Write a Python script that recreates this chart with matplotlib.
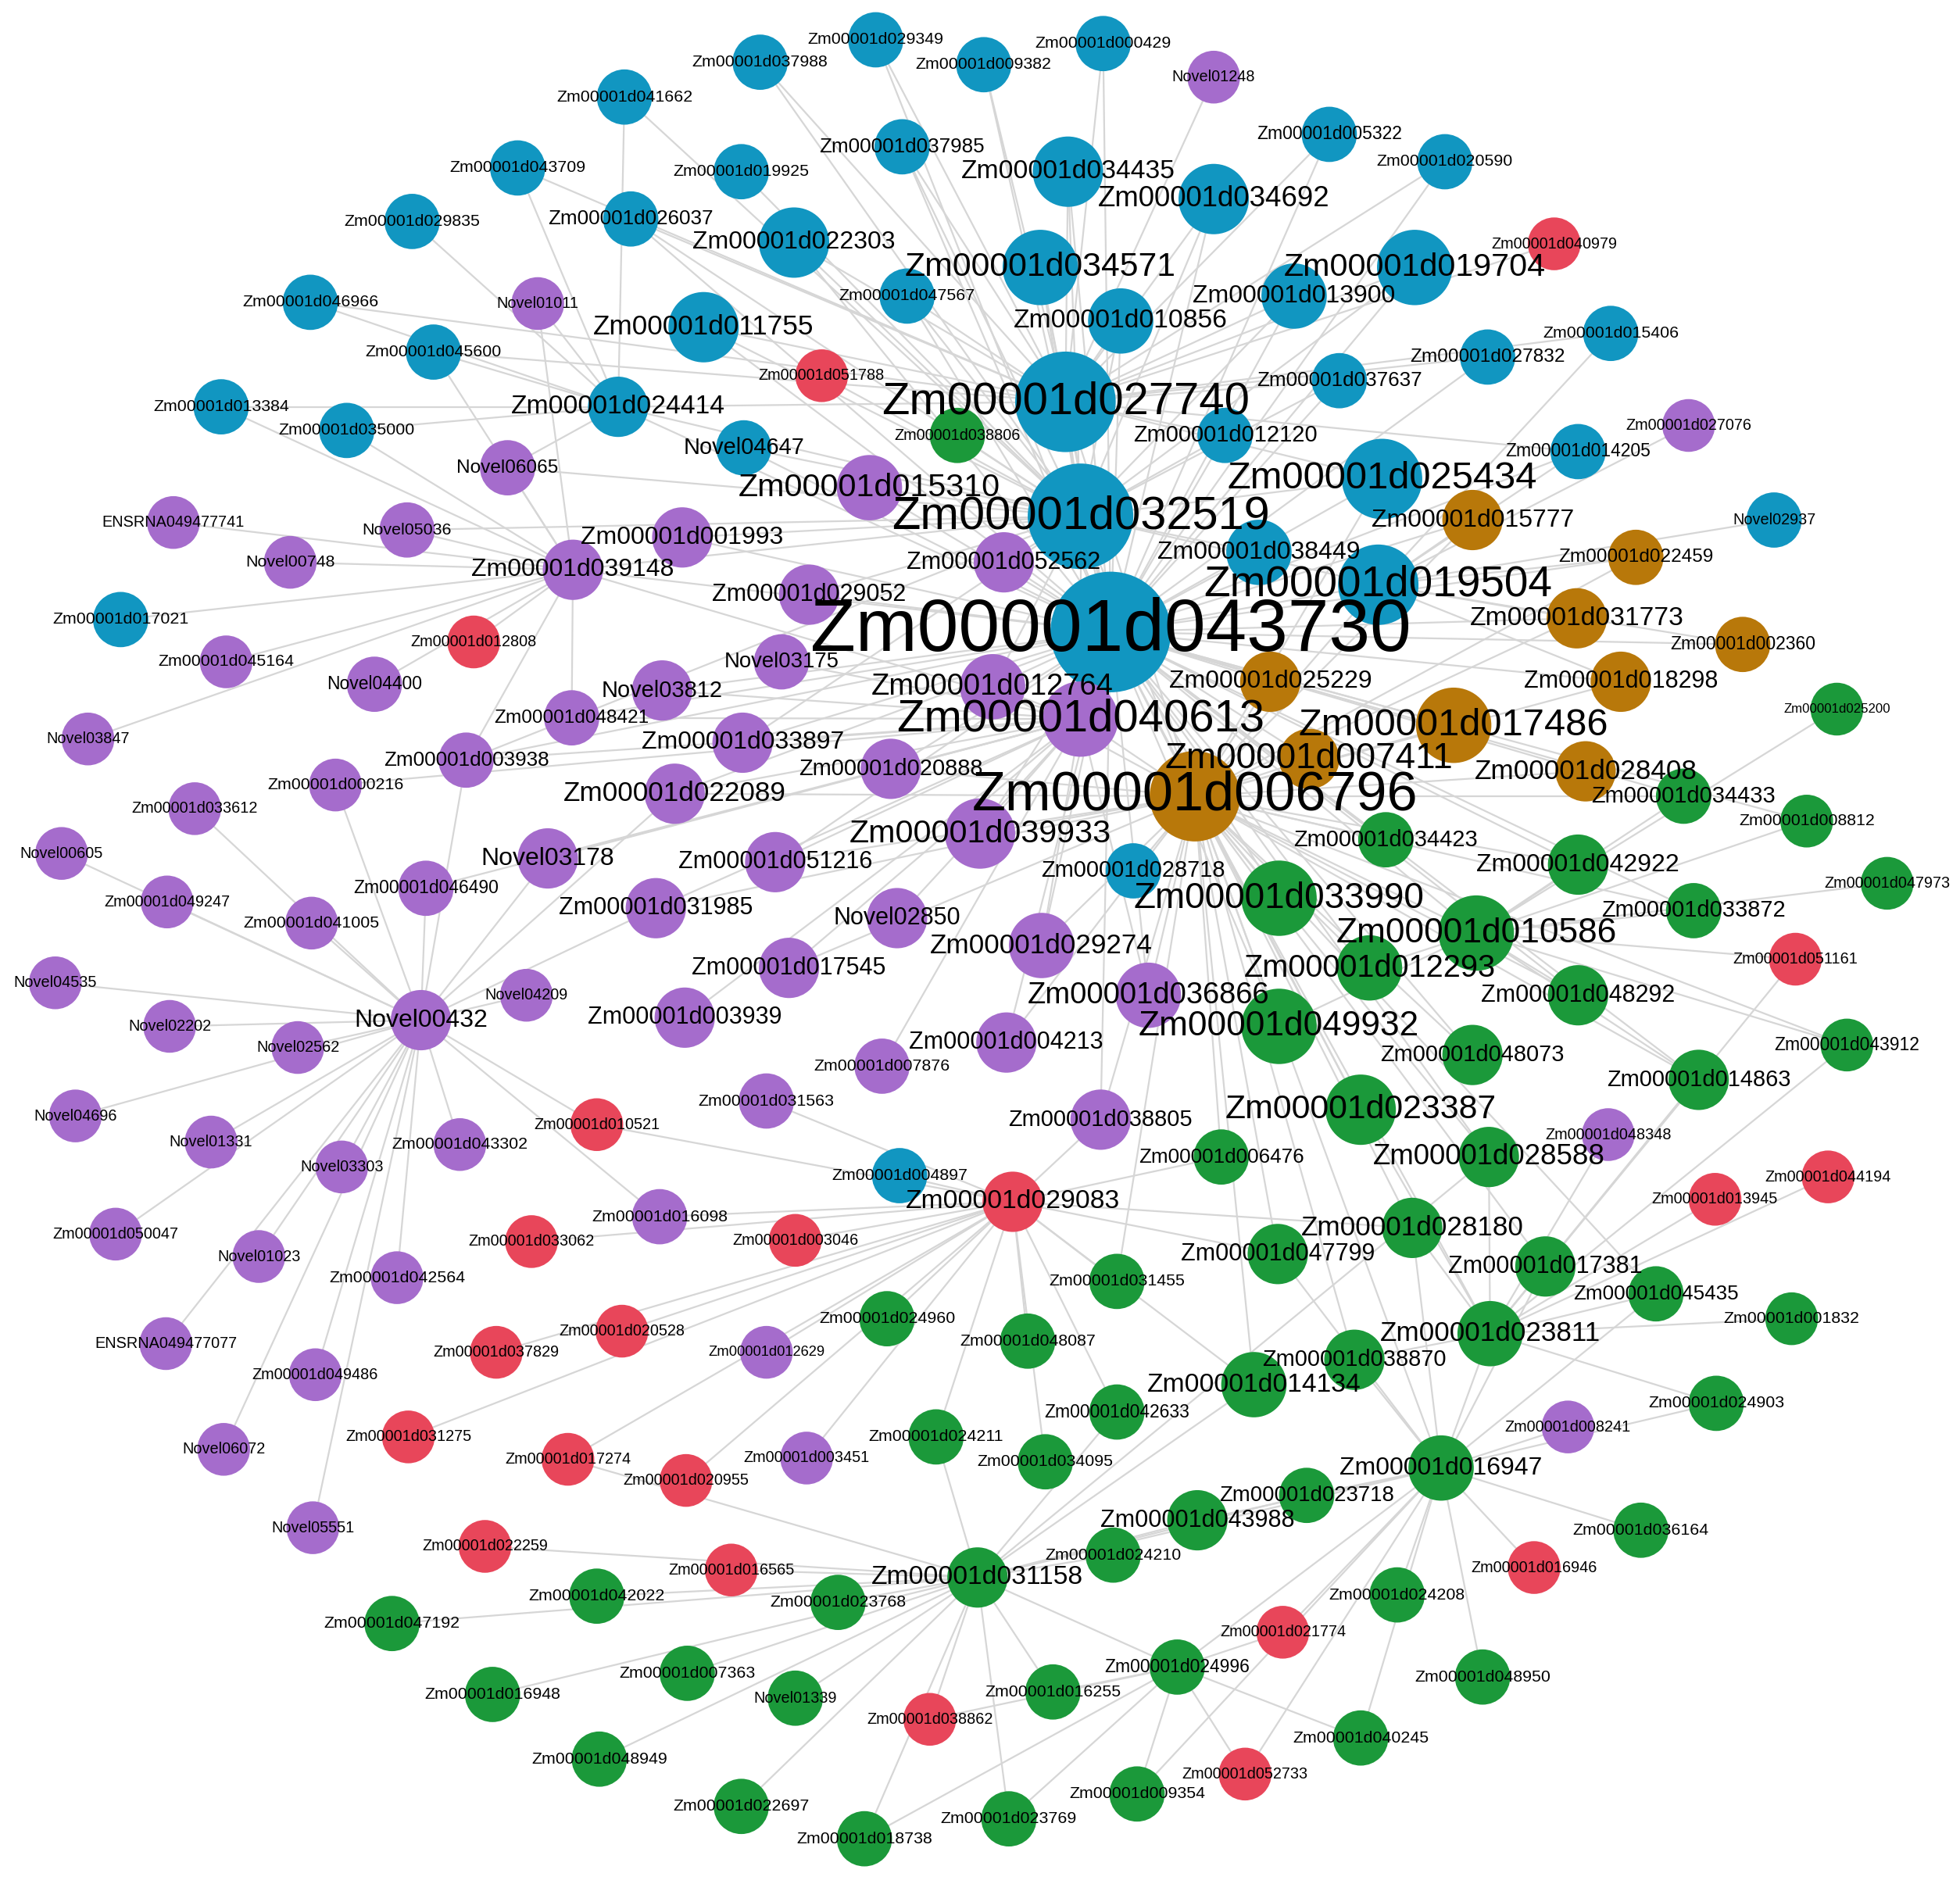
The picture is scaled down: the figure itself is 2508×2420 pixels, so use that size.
import matplotlib.pyplot as plt

# nodos: (nombre, x, y, radio, tamano de letra) en pixeles de la imagen de referencia
azul = [
    ('Zm00001d029349', 697, 32, 22, 14), ('Zm00001d037988', 605, 50, 22, 14),
    ('Zm00001d000429', 878, 35, 22, 14), ('Zm00001d009382', 783, 52, 22, 14),
    ('Zm00001d041662', 497, 78, 22, 14), ('Zm00001d037985', 718, 118, 22, 17),
    ('Zm00001d005322', 1058, 108, 22, 15), ('Zm00001d020590', 1150, 130, 22, 14),
    ('Zm00001d043709', 412, 135, 22, 14), ('Zm00001d019925', 590, 138, 22, 14),
    ('Zm00001d034435', 850, 138, 28, 22), ('Zm00001d034692', 966, 160, 28, 24),
    ('Zm00001d029835', 328, 178, 22, 14), ('Zm00001d026037', 502, 176, 22, 17),
    ('Zm00001d022303', 632, 195, 28, 21), ('Zm00001d034571', 828, 215, 30, 28),
    ('Zm00001d019704', 1126, 215, 30, 27), ('Zm00001d046966', 247, 243, 22, 14),
    ('Zm00001d047567', 722, 238, 22, 14), ('Zm00001d013900', 1030, 238, 26, 21),
    ('Zm00001d010856', 892, 258, 26, 22), ('Zm00001d011755', 560, 263, 28, 23),
    ('Zm00001d015406', 1282, 268, 22, 14), ('Zm00001d045600', 345, 283, 22, 14),
    ('Zm00001d027832', 1184, 287, 22, 16), ('Zm00001d037637', 1066, 306, 22, 17),
    ('Zm00001d013384', 176, 327, 22, 14), ('Zm00001d024414', 492, 327, 24, 22),
    ('Zm00001d027740', 848, 323, 40, 38), ('Zm00001d035000', 276, 346, 22, 14),
    ('Zm00001d012120', 975, 350, 22, 19), ('Novel04647', 592, 360, 22, 19),
    ('Zm00001d014205', 1256, 363, 22, 15), ('Zm00001d025434', 1100, 385, 32, 32),
    ('Novel02937', 1412, 418, 22, 13), ('Zm00001d032519', 860, 415, 42, 39),
    ('Zm00001d038449', 1002, 444, 26, 21), ('Zm00001d019504', 1097, 470, 32, 36),
    ('Zm00001d017021', 96, 498, 22, 14), ('Zm00001d043730', 884, 508, 48, 62),
    ('Zm00001d028718', 902, 700, 22, 19), ('Zm00001d004897', 716, 945, 22, 14),
]

rojo = [
    ('Zm00001d040979', 1237, 196, 21, 13), ('Zm00001d051788', 654, 302, 21, 13),
    ('Zm00001d012808', 377, 516, 21, 13), ('Zm00001d051161', 1429, 771, 21, 13),
    ('Zm00001d010521', 475, 904, 21, 13), ('Zm00001d044194', 1455, 946, 21, 13),
    ('Zm00001d013945', 1365, 964, 21, 13), ('Zm00001d029083', 806, 966, 24, 22),
    ('Zm00001d033062', 423, 998, 21, 13), ('Zm00001d003046', 633, 997, 21, 13),
    ('Zm00001d020528', 495, 1070, 21, 13), ('Zm00001d037829', 395, 1087, 21, 13),
    ('Zm00001d031275', 325, 1155, 21, 13), ('Zm00001d017274', 452, 1173, 21, 13),
    ('Zm00001d020955', 546, 1190, 21, 13), ('Zm00001d022259', 386, 1243, 21, 13),
    ('Zm00001d016565', 582, 1262, 21, 13), ('Zm00001d016946', 1221, 1260, 21, 13),
    ('Zm00001d021774', 1021, 1312, 21, 13), ('Zm00001d038862', 740, 1382, 21, 13),
    ('Zm00001d052733', 991, 1426, 21, 13),
]

marron = [
    ('Zm00001d015777', 1172, 418, 24, 21), ('Zm00001d022459', 1302, 448, 22, 16),
    ('Zm00001d031773', 1255, 497, 24, 22), ('Zm00001d002360', 1387, 518, 22, 15),
    ('Zm00001d025229', 1011, 548, 24, 21), ('Zm00001d018298', 1290, 548, 24, 20),
    ('Zm00001d017486', 1157, 583, 30, 32), ('Zm00001d007411', 1042, 610, 24, 30),
    ('Zm00001d028408', 1262, 620, 24, 23), ('Zm00001d006796', 951, 640, 36, 46),
]

verde = [
    ('Zm00001d038806', 762, 350, 22, 13), ('Zm00001d025200', 1462, 570, 21, 11),
    ('Zm00001d034433', 1340, 640, 22, 19), ('Zm00001d008812', 1438, 660, 21, 14),
    ('Zm00001d034423', 1103, 675, 22, 19), ('Zm00001d042922', 1256, 695, 24, 21),
    ('Zm00001d047973', 1502, 710, 21, 13), ('Zm00001d033990', 1018, 722, 30, 30),
    ('Zm00001d010586', 1175, 750, 30, 29), ('Zm00001d033872', 1348, 732, 22, 19),
    ('Zm00001d012293', 1090, 778, 26, 26), ('Zm00001d048292', 1256, 800, 24, 20),
    ('Zm00001d049932', 1018, 825, 30, 29), ('Zm00001d048073', 1172, 848, 24, 19),
    ('Zm00001d043912', 1470, 840, 21, 15), ('Zm00001d014863', 1352, 868, 24, 19),
    ('Zm00001d023387', 1083, 892, 28, 28), ('Zm00001d006476', 972, 930, 22, 17),
    ('Zm00001d028588', 1185, 930, 24, 24), ('Zm00001d028180', 1124, 987, 24, 23),
    ('Zm00001d047799', 1017, 1008, 24, 20), ('Zm00001d017381', 1230, 1018, 24, 20),
    ('Zm00001d045435', 1318, 1040, 22, 17), ('Zm00001d031455', 889, 1030, 22, 14),
    ('Zm00001d001832', 1426, 1060, 21, 14), ('Zm00001d024960', 706, 1060, 22, 14),
    ('Zm00001d048087', 818, 1078, 22, 14), ('Zm00001d023811', 1186, 1072, 26, 23),
    ('Zm00001d038870', 1078, 1093, 24, 19), ('Zm00001d014134', 998, 1113, 26, 22),
    ('Zm00001d024903', 1366, 1128, 22, 14), ('Zm00001d042633', 889, 1135, 22, 15),
    ('Zm00001d024211', 745, 1155, 22, 14), ('Zm00001d034095', 832, 1175, 22, 14),
    ('Zm00001d016947', 1147, 1180, 26, 21), ('Zm00001d023718', 1040, 1202, 22, 18),
    ('Zm00001d036164', 1306, 1230, 22, 14), ('Zm00001d043988', 953, 1222, 24, 20),
    ('Zm00001d024210', 886, 1250, 22, 14), ('Zm00001d031158', 778, 1268, 24, 22),
    ('Zm00001d042022', 475, 1283, 22, 14), ('Zm00001d023768', 667, 1288, 22, 14),
    ('Zm00001d024208', 1112, 1282, 22, 14), ('Zm00001d047192', 312, 1305, 22, 14),
    ('Zm00001d007363', 547, 1345, 22, 14), ('Zm00001d024996', 937, 1340, 22, 15),
    ('Zm00001d048950', 1180, 1348, 22, 14), ('Zm00001d016948', 392, 1362, 22, 14),
    ('Novel01339', 633, 1365, 22, 13), ('Zm00001d016255', 838, 1360, 22, 14),
    ('Zm00001d040245', 1083, 1397, 22, 14), ('Zm00001d048949', 477, 1414, 22, 14),
    ('Zm00001d009354', 905, 1442, 22, 14), ('Zm00001d022697', 590, 1452, 22, 14),
    ('Zm00001d023769', 803, 1462, 22, 14), ('Zm00001d018738', 688, 1478, 22, 14),
]

morado = [
    ('Novel01248', 966, 62, 21, 13), ('Novel01011', 428, 244, 21, 13),
    ('Zm00001d027076', 1344, 342, 21, 13), ('Novel06065', 404, 376, 22, 16),
    ('Zm00001d015310', 692, 392, 26, 27), ('ENSRNA049477741', 138, 420, 21, 13),
    ('Novel05036', 324, 426, 22, 14), ('Zm00001d001993', 543, 432, 24, 21),
    ('Novel00748', 231, 452, 21, 14), ('Zm00001d052562', 799, 452, 24, 20),
    ('Zm00001d039148', 456, 458, 24, 21), ('Zm00001d029052', 644, 478, 24, 20),
    ('Zm00001d045164', 180, 532, 21, 14), ('Novel03175', 622, 532, 22, 18),
    ('Novel04400', 298, 550, 22, 15), ('Novel03812', 527, 555, 24, 19),
    ('Zm00001d012764', 790, 552, 26, 25), ('Zm00001d048421', 455, 577, 22, 16),
    ('Zm00001d040613', 860, 578, 30, 38), ('Novel03847', 70, 594, 21, 13),
    ('Zm00001d033897', 591, 597, 24, 21), ('Zm00001d003938', 371, 611, 22, 17),
    ('Zm00001d020888', 709, 618, 24, 19), ('Zm00001d000216', 267, 631, 21, 14),
    ('Zm00001d022089', 537, 638, 24, 23), ('Zm00001d033612', 155, 650, 21, 13),
    ('Zm00001d039933', 780, 670, 28, 27), ('Novel00605', 49, 686, 21, 13),
    ('Novel03178', 436, 690, 24, 21), ('Zm00001d051216', 617, 693, 24, 20),
    ('Zm00001d046490', 339, 714, 22, 15), ('Zm00001d049247', 133, 725, 21, 13),
    ('Zm00001d041005', 248, 742, 21, 14), ('Zm00001d031985', 522, 730, 24, 20),
    ('Novel02850', 714, 738, 24, 20), ('Zm00001d029274', 829, 760, 26, 23),
    ('Novel04535', 44, 790, 21, 13), ('Zm00001d017545', 628, 778, 24, 20),
    ('Novel04209', 419, 800, 21, 13), ('Zm00001d036866', 914, 800, 26, 25),
    ('Novel00432', 335, 820, 24, 21), ('Novel02202', 135, 825, 21, 13),
    ('Zm00001d003939', 545, 818, 24, 20), ('Novel02562', 237, 842, 21, 13),
    ('Zm00001d004213', 801, 838, 24, 20), ('Zm00001d007876', 702, 857, 22, 14),
    ('Zm00001d031563', 610, 885, 22, 14), ('Novel04696', 60, 897, 21, 13),
    ('Zm00001d038805', 876, 900, 24, 19), ('Novel01331', 168, 918, 21, 13),
    ('Zm00001d043302', 366, 920, 21, 14), ('Zm00001d048348', 1280, 912, 21, 13),
    ('Novel03303', 272, 938, 21, 13), ('Zm00001d016098', 525, 978, 22, 14),
    ('Zm00001d050047', 92, 992, 21, 13), ('Novel01023', 206, 1010, 21, 13),
    ('Zm00001d042564', 316, 1027, 21, 14), ('ENSRNA049477077', 132, 1080, 21, 13),
    ('Zm00001d012629', 610, 1087, 21, 12), ('Zm00001d049486', 251, 1105, 21, 13),
    ('Zm00001d008241', 1248, 1147, 21, 13), ('Zm00001d003451', 642, 1172, 21, 13),
    ('Novel06072', 178, 1165, 21, 13), ('Novel05551', 249, 1228, 21, 13),
]

# aristas: nodo central -> vecinos (sufijo tras 'Zm00001d' o nombre completo)
aristas = {
    '043730': '027740 032519 034571 034435 019704 025434 019504 006796 040613 017486 015310 012764 039933 '
              '033990 010586 049932 022303 011755 024414 013900 010856 034692 038449 015777 031773 018298 '
              '028408 007411 025229 052562 029052 001993 039148 Novel03812 033897 022089 051216 029274 '
              '036866 012293 023387 048073 037637 012120 022459 002360 034423 042922 047567 037985 026037 '
              'Novel04647 020888 003938 048421 004213 038805 028588 014863 033872 048292 034433 008812 '
              '027832 014205 020590 005322 000429 029349 009382',
    '006796': '040613 039933 029274 036866 033990 010586 049932 012293 023387 028588 028180 047799 017381 '
              '023811 038870 014134 016947 017486 028408 018298 031773 007411 025229 048073 048292 042922 '
              '034423 034433 033872 014863 043912 045435 006476 031455 038805 004213 017545 031985 051216 '
              '022089 020888 012764 027740 032519 019504 025434 015777 022459 028718',
    '032519': '027740 034571 034435 034692 022303 011755 024414 015310 001993 039148 029052 052562 012764 '
              '040613 038449 019504 025434 013900 010856 019704 037637 012120 Novel04647 038806 051788 '
              '047567 037985 019925 026037 037988 041662 003938 Novel06065 Novel05036 033897',
    '027740': '034571 034435 034692 019704 013900 010856 022303 011755 024414 037637 027832 015406 020590 '
              '005322 000429 009382 029349 037988 037985 047567 025434 012120 014205 040979 Novel01248 '
              '026037 043709 045600 046966',
    '040613': '039933 012764 033897 022089 051216 031985 Novel03178 020888 029274 017545 003939 007876 '
              'Novel02850 039148 048421 Novel03812 Novel03175 003938 000216 046490 036866',
    'Novel00432': 'Novel02202 Novel02562 Novel04696 Novel01331 Novel03303 050047 Novel01023 042564 '
                  'ENSRNA049477077 049486 Novel06072 Novel05551 043302 041005 049247 Novel04535 Novel00605 '
                  '046490 Novel04209 003938 Novel03178 031985 022089 033612 000216 010521 016098',
    '039148': 'Novel00748 Novel05036 ENSRNA049477741 045164 Novel04400 012808 017021 Novel06065 Novel01011 '
              '013384 035000 045600 003938 048421 Novel03847',
    '029083': '004897 003046 033062 020528 037829 012629 024960 048087 031455 016098 010521 031563 038805 '
              '006476 047799 017274 031275 003451 020955 024211 042633 034095 014134 028180',
    '031158': '042022 023768 047192 007363 016948 048949 022697 Novel01339 018738 016565 038862 024210 '
              '043988 016255 024996 023769 022259 017274 024211 042633 016947 023718 014134 028588',
    '016947': '024208 016946 036164 048950 021774 040245 024996 023718 043988 009354 052733 038870 023811 '
              '017381 045435 024903 008241 028180 047799',
    '023811': '001832 045435 024903 017381 013945 044194 048348 014863 043912 051161 028588 023387 028180 038870',
    '010586': '047973 008812 025200 034433 033872 048292 042922 051161 043912 014863 012293 049932',
    '019504': '022459 002360 Novel02937 027076 014205 015406 031773 015777 018298',
    '024414': '013384 035000 045600 046966 029835 043709 041662 Novel01011 Novel06065',
    '024996': '009354 052733 040245 021774 038862 023769 016255 018738',
}

colores = {'azul': '#1196c1', 'rojo': '#e8465a', 'marron': '#b8780a',
           'verde': '#1b993a', 'morado': '#a56ccc'}
grupos = {'azul': azul, 'rojo': rojo, 'marron': marron, 'verde': verde, 'morado': morado}


def clave(nombre):
    return nombre[8:] if nombre.startswith('Zm00001d') else nombre


pos = {}
for lista in grupos.values():
    for nombre, x, y, r, f in lista:
        pos[clave(nombre)] = (x, y)

fig = plt.figure(figsize=(25.08, 24.2), dpi=100)
ax = fig.add_axes([0, 0, 1, 1])
ax.set_xlim(0, 1560)
ax.set_ylim(1520, 0)
ax.axis('off')

escala = 2508 / 1560 * 72 / 100

# dibujar aristas
for centro, vecinos in aristas.items():
    x0, y0 = pos[centro]
    for v in vecinos.split():
        if v in pos:
            x1, y1 = pos[v]
            ax.plot([x0, x1], [y0, y1], color='#d6d6d6', lw=1.6, zorder=1)

# nodos grandes primero para que los pequenos queden encima
todos = []
for g, lista in grupos.items():
    for n in lista:
        todos.append((g,) + n)
todos.sort(key=lambda t: -t[4])

for g, nombre, x, y, r, f in todos:
    ax.scatter(x, y, s=(2 * r * escala) ** 2, color=colores[g], edgecolors='none', zorder=2)

for g, nombre, x, y, r, f in todos:
    ax.text(x, y, nombre, ha='center', va='center', fontsize=f * escala * 0.95,
            family='Liberation Sans', color='black', zorder=3)

fig.savefig('out.png', dpi=100)
